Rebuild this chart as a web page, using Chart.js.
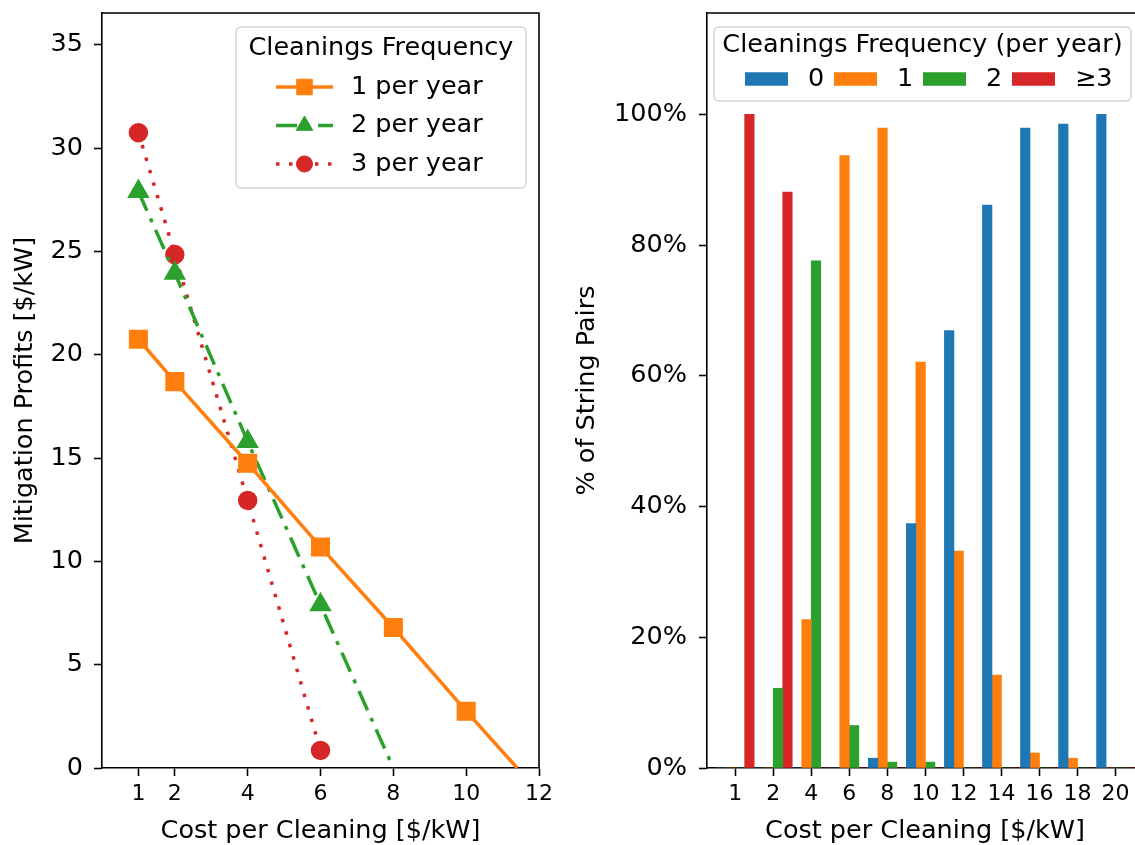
<!DOCTYPE html>
<html>
<head>
<meta charset="utf-8">
<script src="https://cdn.jsdelivr.net/npm/chart.js@4.4.1/dist/chart.umd.min.js"></script>
<style>
  html, body { margin: 0; padding: 0; background: #fff; overflow: hidden; }
  body { width: 1135px; height: 845px; position: relative; }
  #leftBox { position: absolute; left: 0; top: 0; width: 560px; height: 845px; }
  #rightBox { position: absolute; left: 560px; top: 0; width: 583px; height: 845px; }
</style>
</head>
<body>
<div id="leftBox"><canvas id="profitChart"></canvas></div>
<div id="rightBox"><canvas id="shareChart"></canvas></div>
<script>
// left panel: mitigation profits per cleaning frequency
var profitCost1 = [1, 2, 4, 6, 8, 10, 11.4];
var profit1 = [20.75, 18.7, 14.75, 10.7, 6.8, 2.75, 0];
var profitCost2 = [1, 2, 4, 6, 8];
var profit2 = [27.9, 23.95, 15.8, 7.9, 0];
var profitCost3 = [1, 2, 4, 6];
var profit3 = [30.75, 24.85, 12.95, 0.85];
var profitLabels = ["1 per year", "2 per year", "3 per year"];
var profitXTicks = [1, 2, 4, 6, 8, 10, 12];
var profitYTicks = [0, 5, 10, 15, 20, 25, 30, 35];

// right panel: share of string pairs per cleaning frequency
var costCategories = ["1", "2", "4", "6", "8", "10", "12", "14", "16", "18", "20"];
var share0 = [0, 0, 0, 0, 1.5, 37.4, 66.9, 86.1, 97.9, 98.5, 100];
var share1 = [0, 0, 22.7, 93.7, 97.9, 62.1, 33.2, 14.2, 2.3, 1.5, 0];
var share2 = [0, 12.2, 77.6, 6.5, 0.9, 0.9, 0, 0, 0, 0, 0];
var share3 = [100, 88.1, 0, 0, 0, 0, 0, 0, 0, 0, 0];
var shareLabels = ["0", "1", "2", "\u22653"];
var shareYTicks = [0, 20, 40, 60, 80, 100];

var FONT = "DejaVu Sans";
var xTickFont = { family: FONT, size: 22 };
var yTickFont = { family: FONT, size: 25.5 };
var labelFont = { family: FONT, size: 25.5 };

function toPoints(xs, ys) {
    return ys.map(function (v, i) { return { x: xs[i], y: v }; });
}

function drawMarker(ctx, style, r, x, y) {
    ctx.beginPath();
    if (style === "rect") {
        var s = r * Math.SQRT1_2;
        ctx.rect(x - s, y - s, 2 * s, 2 * s);
    } else if (style === "triangle") {
        for (var k = 0; k < 3; k++) {
            var a = k * 2 * Math.PI / 3;
            var px = x + Math.sin(a) * r, py = y - Math.cos(a) * r;
            if (k === 0) ctx.moveTo(px, py); else ctx.lineTo(px, py);
        }
        ctx.closePath();
    } else {
        ctx.arc(x, y, r, 0, 2 * Math.PI);
    }
    ctx.fill();
    ctx.stroke();
}

function drawFrame(ctx, a) {
    ctx.strokeStyle = "#000";
    ctx.lineWidth = 1.6;
    ctx.beginPath();
    ctx.moveTo(a.left, a.top);
    ctx.lineTo(a.right, a.top);
    ctx.lineTo(a.right, a.bottom);
    ctx.stroke();
}

function legendBox(ctx, x, y, w, h) {
    ctx.beginPath();
    ctx.roundRect(x, y, w, h, 5);
    ctx.fillStyle = "rgba(255,255,255,0.85)";
    ctx.fill();
    ctx.strokeStyle = "#d5d5d5";
    ctx.lineWidth = 1.5;
    ctx.stroke();
}

var leftDecor = {
    id: "leftDecor",
    afterDraw: function (chart) {
        var ctx = chart.ctx, a = chart.chartArea;
        ctx.save();
        drawFrame(ctx, a);
        var bx = a.right - 303, by = a.top + 14, bw = 290, bh = 161;
        legendBox(ctx, bx, by, bw, bh);
        ctx.fillStyle = "#000";
        ctx.font = "25.5px '" + FONT + "'";
        ctx.textAlign = "center";
        ctx.textBaseline = "middle";
        ctx.fillText("Cleanings Frequency", bx + bw / 2, by + 21);
        chart.data.datasets.forEach(function (ds, i) {
            var y = by + 60 + i * 38.5;
            var x0 = bx + 40, x1 = bx + 97;
            ctx.strokeStyle = ds.borderColor;
            ctx.lineWidth = ds.borderWidth;
            ctx.setLineDash(ds.borderDash || []);
            ctx.beginPath();
            ctx.moveTo(x0, y);
            ctx.lineTo(x1, y);
            ctx.stroke();
            ctx.setLineDash([]);
            ctx.fillStyle = ds.borderColor;
            ctx.lineWidth = 1;
            drawMarker(ctx, ds.pointStyle, ds.markerSize, (x0 + x1) / 2, y);
            ctx.fillStyle = "#000";
            ctx.textAlign = "left";
            ctx.fillText(ds.label, bx + 115, y);
        });
        ctx.restore();
    }
};

var rightDecor = {
    id: "rightDecor",
    afterDraw: function (chart) {
        var ctx = chart.ctx, a = chart.chartArea;
        ctx.save();
        drawFrame(ctx, a);
        var bx = a.left + 7, by = a.top + 14, bw = 417, bh = 74;
        legendBox(ctx, bx, by, bw, bh);
        ctx.fillStyle = "#000";
        ctx.font = "25.5px '" + FONT + "'";
        ctx.textAlign = "center";
        ctx.textBaseline = "middle";
        ctx.fillText("Cleanings Frequency (per year)", bx + bw / 2, by + 18);
        chart.data.datasets.forEach(function (ds, i) {
            var px = bx + 31 + i * 89, py = by + 52;
            ctx.fillStyle = ds.backgroundColor;
            ctx.fillRect(px, py - 6.75, 43, 13.5);
            ctx.fillStyle = "#000";
            ctx.textAlign = "left";
            ctx.fillText(ds.label, px + 63, py);
        });
        ctx.restore();
    }
};

function axisGrid() {
    return { drawOnChartArea: false, drawTicks: true, tickLength: 8, tickWidth: 1.6, tickColor: "#000", offset: false };
}

// fixed axis box sizes, no extra label padding around the plot area
function fitX(s) {
    s.height = 77;
    s.paddingLeft = 0;
    s.paddingRight = 0;
}
function fitY(width) {
    return function (s) {
        s.width = width;
        s.paddingTop = 0;
        s.paddingBottom = 0;
    };
}

new Chart(document.getElementById("profitChart"), {
    type: "line",
    data: {
        datasets: [{
            label: profitLabels[0],
            data: toPoints(profitCost1, profit1),
            borderColor: "#ff7f0e",
            borderWidth: 3.5,
            pointStyle: "rect",
            markerSize: 11,
            pointRadius: profit1.map(function (v, i) { return i < profit1.length - 1 ? 11 : 0; }),
            pointBackgroundColor: "#ff7f0e",
            pointBorderColor: "#ff7f0e"
        }, {
            label: profitLabels[1],
            data: toPoints(profitCost2, profit2),
            borderColor: "#2ca02c",
            borderWidth: 3.5,
            borderDash: [21, 8.5, 4, 8.5],
            pointStyle: "triangle",
            markerSize: 9.5,
            pointRadius: profit2.map(function (v, i) { return i < profit2.length - 1 ? 9.5 : 0; }),
            pointBackgroundColor: "#2ca02c",
            pointBorderColor: "#2ca02c"
        }, {
            label: profitLabels[2],
            data: toPoints(profitCost3, profit3),
            borderColor: "#d62728",
            borderWidth: 3.5,
            borderDash: [3.5, 9.5],
            pointStyle: "circle",
            markerSize: 8,
            pointRadius: 8,
            pointBackgroundColor: "#d62728",
            pointBorderColor: "#d62728"
        }]
    },
    options: {
        responsive: true,
        maintainAspectRatio: false,
        animation: false,
        layout: { autoPadding: false, padding: { top: 13, right: 21, bottom: 0, left: 0 } },
        elements: { line: { tension: 0 } },
        plugins: { legend: { display: false }, tooltip: { enabled: false } },
        scales: {
            x: {
                type: "linear",
                min: 0,
                max: 12,
                grid: axisGrid(),
                border: { display: true, color: "#000", width: 1.6 },
                afterBuildTicks: function (s) { s.ticks = profitXTicks.map(function (v) { return { value: v }; }); },
                afterFit: fitX,
                ticks: { color: "#000", font: xTickFont, padding: 5, maxRotation: 0, autoSkip: false },
                title: { display: true, text: "Cost per Cleaning [$/kW]", color: "#000", font: labelFont, padding: { top: 0, bottom: -2 } }
            },
            y: {
                min: 0,
                max: 36.54,
                grid: axisGrid(),
                border: { display: true, color: "#000", width: 1.6 },
                afterBuildTicks: function (s) { s.ticks = profitYTicks.map(function (v) { return { value: v }; }); },
                afterFit: fitY(102),
                ticks: { color: "#000", font: yTickFont, padding: 11 },
                title: { display: true, text: "Mitigation Profits [$/kW]", color: "#000", font: labelFont, padding: { top: 10.5, bottom: 0 } }
            }
        }
    },
    plugins: [leftDecor]
});

function barSet(label, values, color) {
    return {
        label: label,
        data: values.map(function (v, i) { return { x: i, y: v }; }),
        backgroundColor: color,
        borderWidth: 0
    };
}

new Chart(document.getElementById("shareChart"), {
    type: "bar",
    data: {
        datasets: [
            barSet(shareLabels[0], share0, "#1f77b4"),
            barSet(shareLabels[1], share1, "#ff7f0e"),
            barSet(shareLabels[2], share2, "#2ca02c"),
            barSet(shareLabels[3], share3, "#d62728")
        ]
    },
    options: {
        responsive: true,
        maintainAspectRatio: false,
        animation: false,
        layout: { autoPadding: false, padding: { top: 13, right: 0, bottom: 0, left: 0 } },
        datasets: { bar: { categoryPercentage: 1, barPercentage: 1 } },
        plugins: { legend: { display: false }, tooltip: { enabled: false } },
        scales: {
            x: {
                type: "linear",
                offset: false,
                min: -0.74,
                max: 10.72,
                grid: axisGrid(),
                border: { display: true, color: "#000", width: 1.6 },
                afterBuildTicks: function (s) { s.ticks = costCategories.map(function (c, i) { return { value: i }; }); },
                afterFit: fitX,
                ticks: {
                    color: "#000", font: xTickFont, padding: 5, maxRotation: 0, autoSkip: false,
                    callback: function (v) { return costCategories[v]; }
                },
                title: { display: true, text: "Cost per Cleaning [$/kW]", color: "#000", font: labelFont, padding: { top: 0, bottom: -2 } }
            },
            y: {
                min: 0,
                max: 115.5,
                grid: axisGrid(),
                border: { display: true, color: "#000", width: 1.6 },
                afterBuildTicks: function (s) { s.ticks = shareYTicks.map(function (v) { return { value: v }; }); },
                afterFit: fitY(147),
                ticks: { color: "#000", font: yTickFont, padding: 12, callback: function (v) { return v + "%"; } },
                title: { display: true, text: "% of String Pairs", color: "#000", font: labelFont, padding: { top: 12.5, bottom: 0 } }
            }
        }
    },
    plugins: [rightDecor]
});
</script>
</body>
</html>
